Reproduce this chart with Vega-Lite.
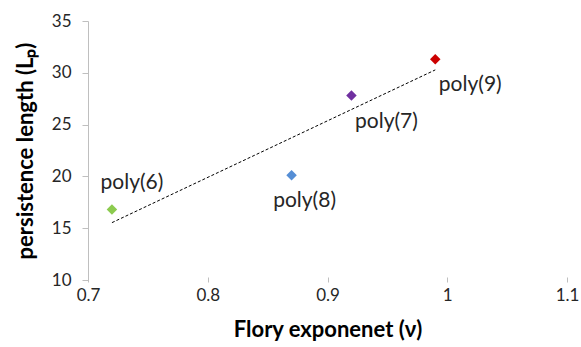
{
  "$schema": "https://vega.github.io/schema/vega-lite/v6.json",
  "autosize": {"type": "none"},
  "width": 479,
  "height": 259,
  "padding": {"left": 88, "top": 21, "right": 14, "bottom": 67},
  "background": "white",
  "config": {"view": {"stroke": null}, "font": "Lato"},
  "data": {
    "values": [
      {"name": "poly(6)", "nu": 0.72, "lp": 16.8},
      {"name": "poly(8)", "nu": 0.87, "lp": 20.1},
      {"name": "poly(7)", "nu": 0.92, "lp": 27.8},
      {"name": "poly(9)", "nu": 0.99, "lp": 31.3}
    ]
  },
  "encoding": {
    "x": {
      "field": "nu", "type": "quantitative",
      "scale": {"domain": [0.7, 1.1], "nice": false, "zero": false},
      "axis": {
        "title": "Flory exponenet (ν)",
        "values": [0.7, 0.8, 0.9, 1, 1.1],
        "labelExpr": "datum.value == 1 ? '1' : format(datum.value, '.1f')",
        "labelFlush": false,
        "domain": false, "grid": false,
        "tickColor": "#bfbfbf", "tickSize": 5, "tickWidth": 1, "offset": -3,
        "labelFont": "Lato", "labelFontSize": 17, "labelColor": "#262626", "labelPadding": 5,
        "titleFont": "Lato", "titleFontSize": 22, "titleFontWeight": "bold", "titleColor": "#000000", "titlePadding": 16
      }
    },
    "y": {
      "field": "lp", "type": "quantitative",
      "scale": {"domain": [10, 35], "nice": false, "zero": false},
      "axis": {
        "title": "persistence length (Lₚ)",
        "values": [10, 15, 20, 25, 30, 35],
        "labelFlush": false,
        "domain": true, "domainColor": "#bfbfbf", "domainWidth": 1, "grid": false,
        "tickColor": "#bfbfbf", "tickSize": 6, "tickWidth": 1,
        "labelFont": "Lato", "labelFontSize": 17, "labelColor": "#262626", "labelPadding": 11,
        "titleFont": "Lato", "titleFontSize": 22, "titleFontWeight": "bold", "titleColor": "#000000", "titlePadding": 14
      }
    }
  },
  "layer": [
    {
      "transform": [{"regression": "lp", "on": "nu"}],
      "mark": {"type": "line", "color": "#000000", "strokeWidth": 1, "strokeDash": [3, 2]}
    },
    {
      "mark": {"type": "point", "shape": "diamond", "filled": true, "opacity": 1, "size": 110},
      "encoding": {
        "color": {
          "field": "name", "type": "nominal", "legend": null,
          "scale": {"domain": ["poly(6)", "poly(8)", "poly(7)", "poly(9)"], "range": ["#8CCB4F", "#558ED5", "#7030A0", "#CC0000"]}
        }
      }
    },
    {
      "transform": [{"filter": "datum.name == 'poly(6)'"}],
      "mark": {"type": "text", "dx": 20, "dy": -27, "fontSize": 21, "font": "Lato", "color": "#262626"},
      "encoding": {"text": {"field": "name"}}
    },
    {
      "transform": [{"filter": "datum.name == 'poly(8)'"}],
      "mark": {"type": "text", "dx": 13, "dy": 26, "fontSize": 21, "font": "Lato", "color": "#262626"},
      "encoding": {"text": {"field": "name"}}
    },
    {
      "transform": [{"filter": "datum.name == 'poly(7)' || datum.name == 'poly(9)'"}],
      "mark": {"type": "text", "dx": 35, "dy": 26, "fontSize": 21, "font": "Lato", "color": "#262626"},
      "encoding": {"text": {"field": "name"}}
    }
  ]
}
